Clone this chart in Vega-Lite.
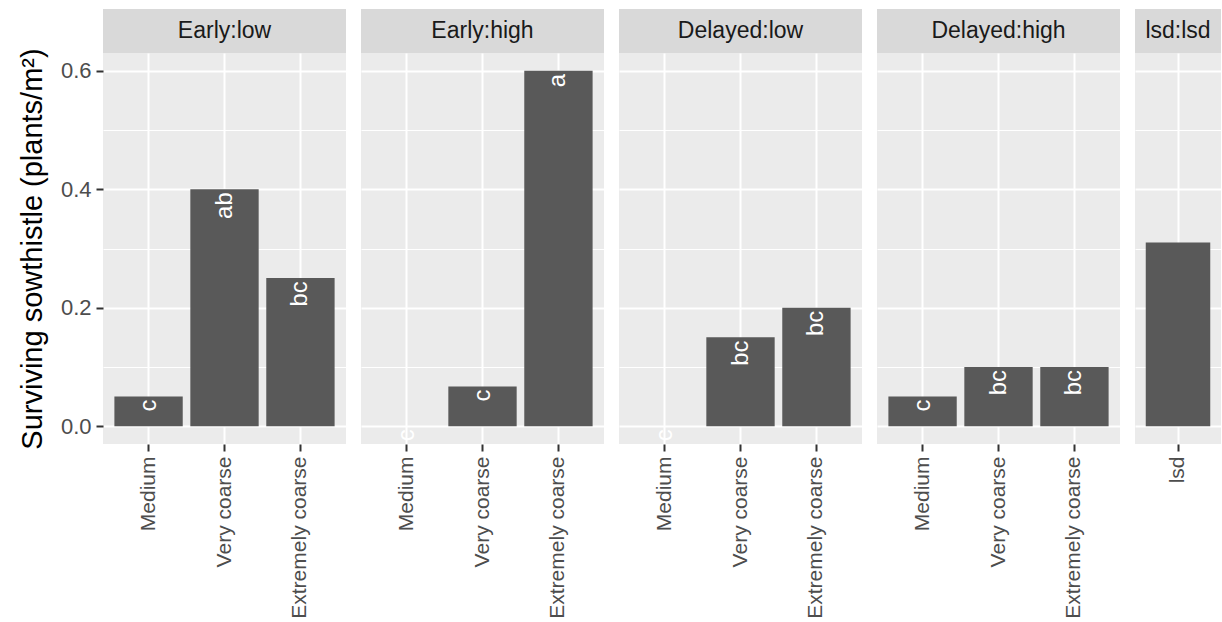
{
  "$schema": "https://vega.github.io/schema/vega-lite/v6.json",
  "padding": {"left": 18, "top": 9, "right": 0, "bottom": 0},
  "background": "#FFFFFF",
  "datasets": {
    "bars": [
      {"panel": "Early:low", "texture": "Medium", "value": 0.05, "letter": "c"},
      {"panel": "Early:low", "texture": "Very coarse", "value": 0.4, "letter": "ab"},
      {"panel": "Early:low", "texture": "Extremely coarse", "value": 0.25, "letter": "bc"},
      {"panel": "Early:high", "texture": "Medium", "value": 0, "letter": "c"},
      {"panel": "Early:high", "texture": "Very coarse", "value": 0.067, "letter": "c"},
      {"panel": "Early:high", "texture": "Extremely coarse", "value": 0.6, "letter": "a"},
      {"panel": "Delayed:low", "texture": "Medium", "value": 0, "letter": "c"},
      {"panel": "Delayed:low", "texture": "Very coarse", "value": 0.15, "letter": "bc"},
      {"panel": "Delayed:low", "texture": "Extremely coarse", "value": 0.2, "letter": "bc"},
      {"panel": "Delayed:high", "texture": "Medium", "value": 0.05, "letter": "c"},
      {"panel": "Delayed:high", "texture": "Very coarse", "value": 0.1, "letter": "bc"},
      {"panel": "Delayed:high", "texture": "Extremely coarse", "value": 0.1, "letter": "bc"},
      {"panel": "lsd:lsd", "texture": "lsd", "value": 0.31, "letter": ""}
    ]
  },
  "spacing": 15,
  "hconcat": [
    {
      "spacing": 0,
      "bounds": "flush",
      "vconcat": [
        {"width": 243, "height": 44, "data": {"values": [{"strip": "Early:low"}]},
         "view": {"fill": "#D9D9D9", "stroke": null},
         "mark": {"type": "text", "fontSize": 23, "color": "#1A1A1A", "align": "center", "baseline": "middle"},
         "encoding": {"text": {"field": "strip"}}},
        {"width": 243, "height": 391, "data": {"name": "bars"},
         "transform": [{"filter": "datum.panel == 'Early:low'"}],
         "encoding": {
           "x": {"field": "texture", "type": "nominal", "sort": ["Medium", "Very coarse", "Extremely coarse"],
                 "scale": {"paddingInner": 0.1, "paddingOuter": 0.15},
                 "axis": {"title": null, "labelAngle": 270, "labelAlign": "right", "labelBaseline": "middle", "grid": true, "gridWidth": 2}},
           "y": {"field": "value", "type": "quantitative", "scale": {"domain": [-0.03, 0.63], "nice": false, "zero": false},
                 "axis": {"values": [0, 0.1, 0.2, 0.3, 0.4, 0.5, 0.6], "labelFontSize": 22,
                          "labelExpr": "round(datum.value*10) % 2 == 0 ? format(datum.value, '.1f') : ''",
                          "gridWidth": {"condition": {"test": "round(datum.value*10) % 2 == 1", "value": 1}, "value": 2},
                          "tickOpacity": {"condition": {"test": "round(datum.value*10) % 2 == 1", "value": 0}, "value": 1},
                          "title": "Surviving sowthistle (plants/m²)", "titleFontSize": 29, "titlePadding": 13}}
         },
         "layer": [
           {"mark": {"type": "bar", "color": "#595959"}, "encoding": {"y2": {"datum": 0}}},
           {"mark": {"type": "text", "angle": 270, "align": "right", "baseline": "middle", "color": "#FFFFFF", "fontSize": 24, "dx": -3},
            "encoding": {"text": {"field": "letter"}}}
         ]}
      ]
    },
    {
      "spacing": 0,
      "bounds": "flush",
      "vconcat": [
        {"width": 243, "height": 44, "data": {"values": [{"strip": "Early:high"}]},
         "view": {"fill": "#D9D9D9", "stroke": null},
         "mark": {"type": "text", "fontSize": 23, "color": "#1A1A1A", "align": "center", "baseline": "middle"},
         "encoding": {"text": {"field": "strip"}}},
        {"width": 243, "height": 391, "data": {"name": "bars"},
         "transform": [{"filter": "datum.panel == 'Early:high'"}],
         "encoding": {
           "x": {"field": "texture", "type": "nominal", "sort": ["Medium", "Very coarse", "Extremely coarse"],
                 "scale": {"paddingInner": 0.1, "paddingOuter": 0.15},
                 "axis": {"title": null, "labelAngle": 270, "labelAlign": "right", "labelBaseline": "middle", "grid": true, "gridWidth": 2}},
           "y": {"field": "value", "type": "quantitative", "scale": {"domain": [-0.03, 0.63], "nice": false, "zero": false},
                 "axis": {"values": [0, 0.1, 0.2, 0.3, 0.4, 0.5, 0.6], "labels": false, "ticks": false, "title": null,
                          "gridWidth": {"condition": {"test": "round(datum.value*10) % 2 == 1", "value": 1}, "value": 2}}}
         },
         "layer": [
           {"mark": {"type": "bar", "color": "#595959"}, "encoding": {"y2": {"datum": 0}}},
           {"mark": {"type": "text", "angle": 270, "align": "right", "baseline": "middle", "color": "#FFFFFF", "fontSize": 24, "dx": -3},
            "encoding": {"text": {"field": "letter"}}}
         ]}
      ]
    },
    {
      "spacing": 0,
      "bounds": "flush",
      "vconcat": [
        {"width": 243, "height": 44, "data": {"values": [{"strip": "Delayed:low"}]},
         "view": {"fill": "#D9D9D9", "stroke": null},
         "mark": {"type": "text", "fontSize": 23, "color": "#1A1A1A", "align": "center", "baseline": "middle"},
         "encoding": {"text": {"field": "strip"}}},
        {"width": 243, "height": 391, "data": {"name": "bars"},
         "transform": [{"filter": "datum.panel == 'Delayed:low'"}],
         "encoding": {
           "x": {"field": "texture", "type": "nominal", "sort": ["Medium", "Very coarse", "Extremely coarse"],
                 "scale": {"paddingInner": 0.1, "paddingOuter": 0.15},
                 "axis": {"title": null, "labelAngle": 270, "labelAlign": "right", "labelBaseline": "middle", "grid": true, "gridWidth": 2}},
           "y": {"field": "value", "type": "quantitative", "scale": {"domain": [-0.03, 0.63], "nice": false, "zero": false},
                 "axis": {"values": [0, 0.1, 0.2, 0.3, 0.4, 0.5, 0.6], "labels": false, "ticks": false, "title": null,
                          "gridWidth": {"condition": {"test": "round(datum.value*10) % 2 == 1", "value": 1}, "value": 2}}}
         },
         "layer": [
           {"mark": {"type": "bar", "color": "#595959"}, "encoding": {"y2": {"datum": 0}}},
           {"mark": {"type": "text", "angle": 270, "align": "right", "baseline": "middle", "color": "#FFFFFF", "fontSize": 24, "dx": -3},
            "encoding": {"text": {"field": "letter"}}}
         ]}
      ]
    },
    {
      "spacing": 0,
      "bounds": "flush",
      "vconcat": [
        {"width": 243, "height": 44, "data": {"values": [{"strip": "Delayed:high"}]},
         "view": {"fill": "#D9D9D9", "stroke": null},
         "mark": {"type": "text", "fontSize": 23, "color": "#1A1A1A", "align": "center", "baseline": "middle"},
         "encoding": {"text": {"field": "strip"}}},
        {"width": 243, "height": 391, "data": {"name": "bars"},
         "transform": [{"filter": "datum.panel == 'Delayed:high'"}],
         "encoding": {
           "x": {"field": "texture", "type": "nominal", "sort": ["Medium", "Very coarse", "Extremely coarse"],
                 "scale": {"paddingInner": 0.1, "paddingOuter": 0.15},
                 "axis": {"title": null, "labelAngle": 270, "labelAlign": "right", "labelBaseline": "middle", "grid": true, "gridWidth": 2}},
           "y": {"field": "value", "type": "quantitative", "scale": {"domain": [-0.03, 0.63], "nice": false, "zero": false},
                 "axis": {"values": [0, 0.1, 0.2, 0.3, 0.4, 0.5, 0.6], "labels": false, "ticks": false, "title": null,
                          "gridWidth": {"condition": {"test": "round(datum.value*10) % 2 == 1", "value": 1}, "value": 2}}}
         },
         "layer": [
           {"mark": {"type": "bar", "color": "#595959"}, "encoding": {"y2": {"datum": 0}}},
           {"mark": {"type": "text", "angle": 270, "align": "right", "baseline": "middle", "color": "#FFFFFF", "fontSize": 24, "dx": -3},
            "encoding": {"text": {"field": "letter"}}}
         ]}
      ]
    },
    {
      "spacing": 0,
      "bounds": "flush",
      "vconcat": [
        {"width": 86, "height": 44, "data": {"values": [{"strip": "lsd:lsd"}]},
         "view": {"fill": "#D9D9D9", "stroke": null},
         "mark": {"type": "text", "fontSize": 23, "color": "#1A1A1A", "align": "center", "baseline": "middle"},
         "encoding": {"text": {"field": "strip"}}},
        {"width": 86, "height": 391, "data": {"name": "bars"},
         "transform": [{"filter": "datum.panel == 'lsd:lsd'"}],
         "encoding": {
           "x": {"field": "texture", "type": "nominal", "sort": ["lsd"],
                 "scale": {"paddingInner": 0.1, "paddingOuter": 0.15},
                 "axis": {"title": null, "labelAngle": 270, "labelAlign": "right", "labelBaseline": "middle", "grid": true, "gridWidth": 2}},
           "y": {"field": "value", "type": "quantitative", "scale": {"domain": [-0.03, 0.63], "nice": false, "zero": false},
                 "axis": {"values": [0, 0.1, 0.2, 0.3, 0.4, 0.5, 0.6], "labels": false, "ticks": false, "title": null,
                          "gridWidth": {"condition": {"test": "round(datum.value*10) % 2 == 1", "value": 1}, "value": 2}}}
         },
         "layer": [
           {"mark": {"type": "bar", "color": "#595959"}, "encoding": {"y2": {"datum": 0}}}
         ]}
      ]
    }
  ],
  "resolve": {"scale": {"x": "independent"}},
  "config": {
    "font": "Liberation Sans",
    "view": {"fill": "#EBEBEB", "stroke": null},
    "axis": {"domain": false, "gridColor": "#FFFFFF", "tickColor": "#333333", "tickWidth": 2, "tickSize": 7,
             "labelColor": "#4D4D4D", "labelFontSize": 21, "labelPadding": 5, "titleColor": "#000000", "titleFontWeight": "normal"}
  }
}
